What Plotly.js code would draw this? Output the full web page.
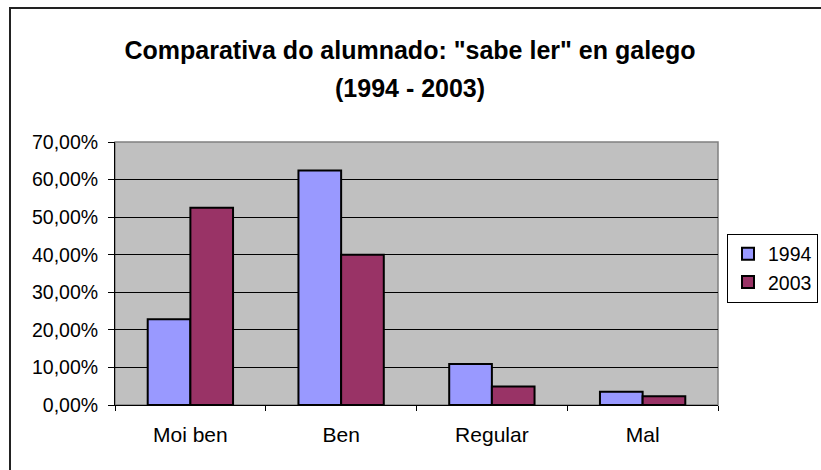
<!DOCTYPE html>
<html>
<head>
<meta charset="utf-8">
<script src="https://cdn.plot.ly/plotly-3.0.1.min.js"></script>
<style>
  html, body { margin: 0; padding: 0; background: #ffffff; }
  #chart { width: 821px; height: 470px; }
</style>
</head>
<body>
<div id="chart"></div>
<script>
const categories = ["Moi ben", "Ben", "Regular", "Mal"];
const values1994 = [0.228, 0.624, 0.109, 0.035];
const values2003 = [0.525, 0.400, 0.049, 0.023];
const seriesNames = ["1994", "2003"];
const titleLine1 = 'Comparativa do alumnado: "sabe ler" en galego';
const titleLine2 = '(1994 - 2003)';

const fontFam = 'Arial, "Liberation Sans", sans-serif';

const traces = [
  {
    type: 'bar', name: seriesNames[0], x: categories, y: values1994,
    marker: { color: '#9999FF', line: { color: '#000000', width: 2 } },
    hoverinfo: 'skip'
  },
  {
    type: 'bar', name: seriesNames[1], x: categories, y: values2003,
    marker: { color: '#993366', line: { color: '#000000', width: 2 } },
    hoverinfo: 'skip'
  }
];

const layout = {
  width: 821, height: 470,
  margin: { l: 115, r: 103, t: 142, b: 65, pad: 0, autoexpand: false },
  paper_bgcolor: '#ffffff',
  plot_bgcolor: '#C0C0C0',
  separators: ', ',
  font: { family: fontFam, color: '#000000', size: 19 },
  barmode: 'group',
  bargap: 0.434,
  bargroupgap: 0,
  title: {
    text: titleLine1,
    font: { family: fontFam, size: 25, color: '#000000', weight: 'bold' },
    x: 410 / 821, xref: 'container', xanchor: 'center',
    y: 1 - 50 / 470, yref: 'container', yanchor: 'middle'
  },
  annotations: [{
    text: titleLine2, showarrow: false,
    xref: 'paper', yref: 'paper', x: (410 - 115) / 603, y: (405 - 88) / 263,
    xanchor: 'center', yanchor: 'middle',
    font: { family: fontFam, size: 25, color: '#000000', weight: 'bold' }
  }],
  xaxis: {
    type: 'category',
    showline: true, linecolor: '#000000', linewidth: 1,
    ticks: 'outside', ticklen: 5, tickcolor: '#000000', tickwidth: 1,
    tickson: 'boundaries',
    showgrid: false, zeroline: false,
    tickfont: { family: fontFam, size: 21, color: '#000000' },
    ticklabelstandoff: 11,
    automargin: false,
    fixedrange: true
  },
  yaxis: {
    range: [0, 0.7],
    dtick: 0.1, tick0: 0,
    tickformat: '.2%',
    showline: true, linecolor: '#000000', linewidth: 1,
    ticks: 'outside', ticklen: 6, tickcolor: '#000000', tickwidth: 1,
    showgrid: true, gridcolor: '#000000', gridwidth: 1,
    zeroline: false,
    tickfont: { family: fontFam, size: 19.5, color: '#000000' },
    ticklabelstandoff: 6,
    automargin: false,
    fixedrange: true
  },
  showlegend: true,
  legend: {
    xref: 'container', yref: 'container',
    x: 727 / 821, xanchor: 'left',
    y: 1 - 268 / 470, yanchor: 'middle',
    bgcolor: '#ffffff', bordercolor: '#000000', borderwidth: 1,
    font: { family: fontFam, size: 19.5, color: '#000000' },
    tracegroupgap: 0, itemwidth: 30
  },
  shapes: [
    {
      type: 'rect', xref: 'paper', yref: 'paper', layer: 'below',
      x0: 0, x1: 1, y0: 0, y1: 1,
      line: { color: '#808080', width: 1.5 }, fillcolor: 'rgba(0,0,0,0)'
    },
    {
      type: 'rect', xref: 'paper', yref: 'paper', layer: 'above',
      x0: (10 - 115) / 603, x1: (840 - 115) / 603,
      y0: (405 - 490) / 263, y1: (405 - 8) / 263,
      line: { color: '#222222', width: 2 }, fillcolor: 'rgba(0,0,0,0)'
    }
  ]
};

Plotly.newPlot('chart', traces, layout, { displayModeBar: false, staticPlot: true });
</script>
</body>
</html>
